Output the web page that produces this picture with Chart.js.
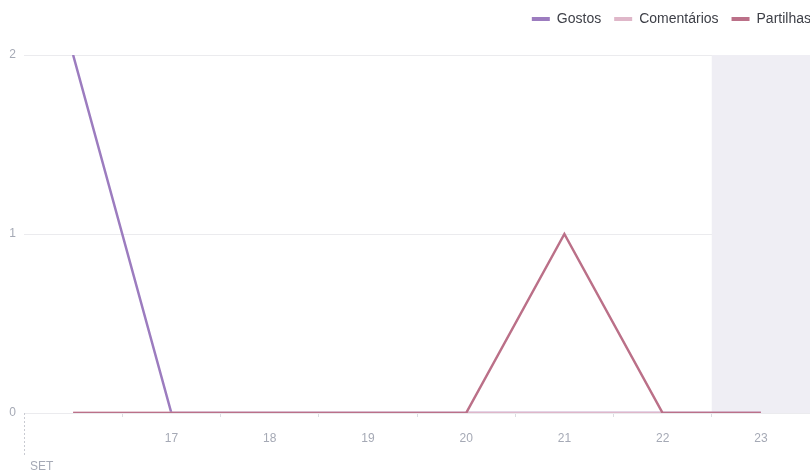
<!DOCTYPE html>
<html lang="pt">
<head>
  <meta charset="UTF-8">
  <title>Gostos, Comentários e Partilhas</title>
  <style>
    body { margin: 0; background: #fff; }
    #chart { display: block; }
  </style>
  <script src="https://cdn.jsdelivr.net/npm/chart.js"></script>
</head>
<body>

<canvas id="chart" width="810" height="471"></canvas>

<script>
  // dias de setembro
  const days = ['16', '17', '18', '19', '20', '21', '22', '23'];
  const monthLabel = 'SET';
  const gostos = [2, 0, 0, 0, 0, 0, 0, 0];
  const comentarios = [0, 0, 0, 0, 0, 0, 0, 0];
  const partilhas = [0, 0, 0, 0, 0, 1, 0, 0];
  const yTicks = [0, 1, 2];
  const shadedFrom = 6.5; // dia incompleto (23)

  const tickColor = '#a5a9b5';
  const fontFamily = "'Liberation Sans', Arial, sans-serif";

  // fundo cinzento para o ultimo dia, linha tracejada no inicio do eixo
  // e legenda encostada ao canto superior direito
  const extras = {
    id: 'extras',
    afterLayout(chart) {
      const lg = chart.legend;
      const dx = 14, dy = -19;
      lg.left += dx; lg.right += dx;
      lg.top += dy; lg.bottom += dy;
    },
    beforeDatasetsDraw(chart) {
      const { ctx, chartArea, scales } = chart;
      const x0 = scales.x.getPixelForValue(shadedFrom);
      ctx.save();
      ctx.fillStyle = '#efeef4';
      ctx.fillRect(x0, chartArea.top, chartArea.right - x0, chartArea.bottom - chartArea.top);
      ctx.restore();
    },
    afterDraw(chart) {
      const { ctx, chartArea } = chart;
      ctx.save();
      ctx.strokeStyle = '#c9cbd2';
      ctx.lineWidth = 1;
      ctx.setLineDash([2, 2]);
      ctx.beginPath();
      ctx.moveTo(chartArea.left + 0.5, chartArea.bottom);
      ctx.lineTo(chartArea.left + 0.5, chartArea.bottom + 42);
      ctx.stroke();
      ctx.setLineDash([]);
      ctx.fillStyle = tickColor;
      ctx.font = '12px ' + fontFamily;
      ctx.textAlign = 'left';
      ctx.textBaseline = 'middle';
      ctx.fillText(monthLabel, chartArea.left + 6, chartArea.bottom + 54);
      ctx.restore();
    }
  };

  const ctx = document.getElementById('chart').getContext('2d');

  new Chart(ctx, {
    type: 'line',
    data: {
      labels: days,
      datasets: [
        {
          label: 'Gostos',
          data: gostos,
          borderColor: '#9c7cbf',
          backgroundColor: '#9c7cbf',
          order: 3
        },
        {
          label: 'Comentários',
          data: comentarios,
          borderColor: '#dfb7c9',
          backgroundColor: '#dfb7c9',
          order: 2
        },
        {
          label: 'Partilhas',
          data: partilhas,
          borderColor: '#bb7088',
          backgroundColor: '#bb7088',
          order: 1
        }
      ]
    },
    options: {
      responsive: false,
      animation: false,
      layout: { padding: { left: 0, right: 0, top: 18, bottom: 0 } },
      elements: {
        line: { borderWidth: 2.5, tension: 0 },
        point: { radius: 0, hoverRadius: 0 }
      },
      scales: {
        x: {
          offset: true,
          afterFit: (s) => { s.height = 58; },
          grid: {
            offset: true,
            drawOnChartArea: false,
            tickLength: 4,
            color: (c) => c.index === 0 ? 'rgba(0,0,0,0)' : '#dcdde2'
          },
          border: { display: false },
          ticks: {
            color: tickColor,
            padding: 14,
            font: { size: 12, family: fontFamily },
            maxRotation: 0,
            callback: (v, i) => i === 0 ? '' : days[i]
          }
        },
        y: {
          min: 0,
          max: 2,
          afterFit: (s) => { s.width = 24; },
          afterBuildTicks: (s) => { s.ticks = yTicks.map(v => ({ value: v })); },
          grid: { color: '#ebebee', drawTicks: false },
          border: { display: false },
          ticks: {
            color: tickColor,
            padding: 8,
            font: { size: 12, family: fontFamily }
          }
        }
      },
      plugins: {
        legend: {
          align: 'end',
          labels: {
            usePointStyle: true,
            pointStyle: 'line',
            pointStyleWidth: 18,
            boxHeight: 4,
            color: '#3d3f47',
            padding: 13,
            font: { size: 14, family: fontFamily },
            sort: (a, b) => a.datasetIndex - b.datasetIndex,
            generateLabels: (chart) =>
              Chart.defaults.plugins.legend.labels.generateLabels(chart)
                .map(l => Object.assign(l, { lineWidth: 4 }))
          }
        },
        tooltip: { enabled: false }
      }
    },
    plugins: [extras]
  });
</script>

</body>
</html>
